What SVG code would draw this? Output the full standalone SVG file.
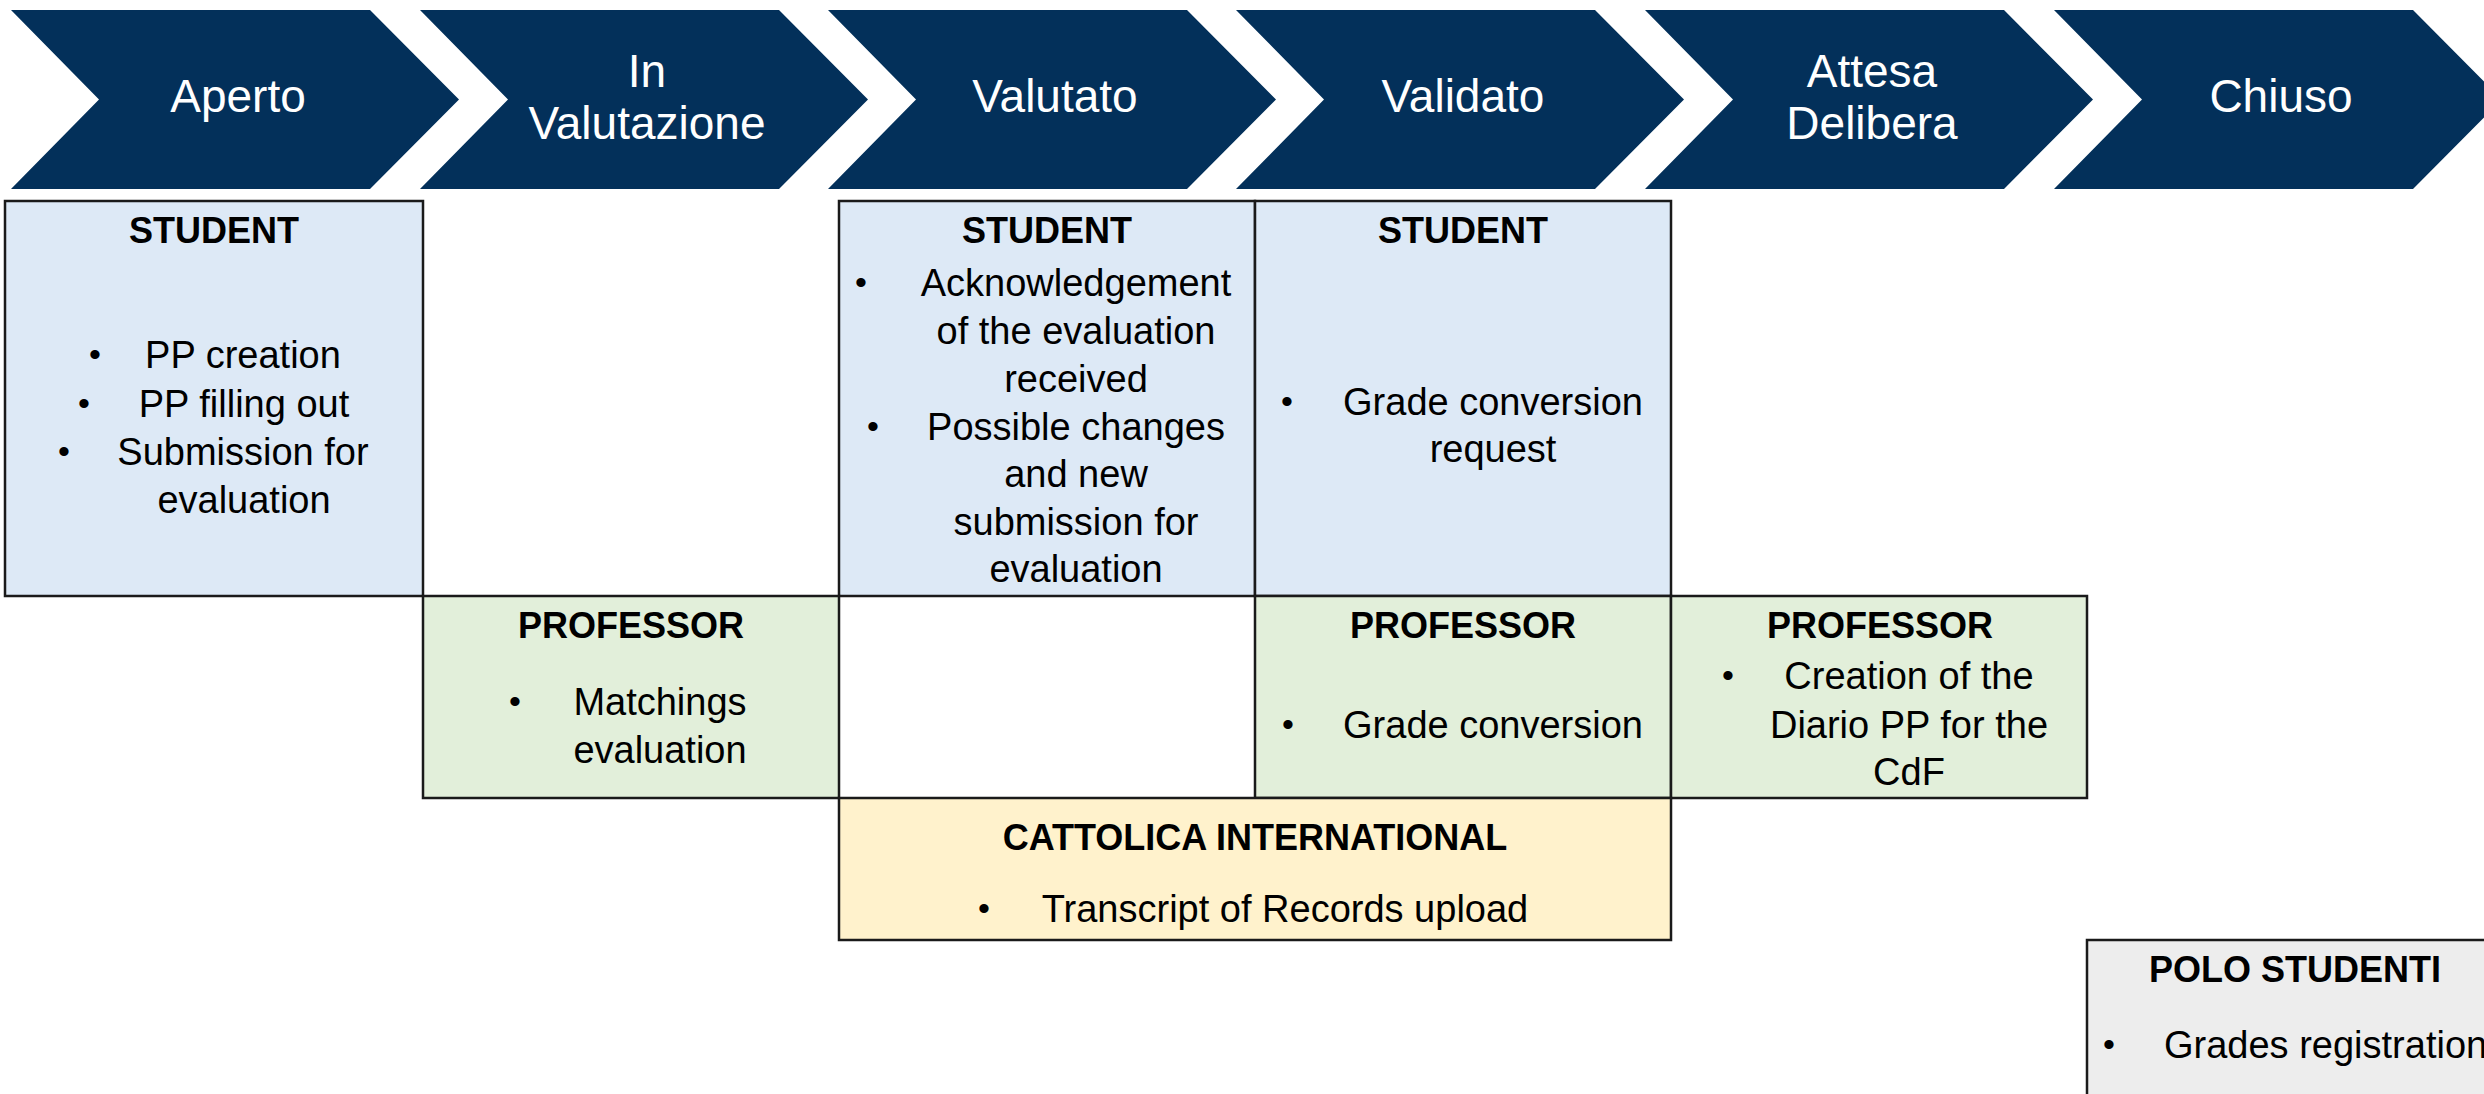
<svg xmlns="http://www.w3.org/2000/svg" width="2484" height="1094" viewBox="0 0 2484 1094">
<style>
.chev{fill:#03305A;}
.ct{font-family:"Liberation Sans",Arial,sans-serif;font-size:46px;fill:#FFFFFF;text-anchor:middle;}
.box{stroke:#1A1A1A;stroke-width:2.5;}
.blue{fill:#DDE9F6;}
.green{fill:#E2EFDA;}
.yellow{fill:#FFF2CC;}
.gray{fill:#EDEDED;}
.h{font-family:"Liberation Sans",Arial,sans-serif;font-size:36px;font-weight:bold;fill:#000;text-anchor:middle;}
.t{font-family:"Liberation Sans",Arial,sans-serif;font-size:38px;fill:#000;text-anchor:middle;}
.b{font-family:"Liberation Sans",Arial,sans-serif;font-size:34px;fill:#000;text-anchor:middle;}
</style>
<defs>
<polygon id="chevron" points="0,10 359,10 448,99.5 359,189 0,189 88,99.5"/>
</defs>
<g id="stages">
<g id="stage-aperto"><use href="#chevron" class="chev" x="11"/><text class="ct" x="238" y="112">Aperto</text></g>
<g id="stage-in-valutazione"><use href="#chevron" class="chev" x="420"/><text class="ct" x="647" y="87">In</text><text class="ct" x="647" y="139">Valutazione</text></g>
<g id="stage-valutato"><use href="#chevron" class="chev" x="828"/><text class="ct" x="1055" y="112">Valutato</text></g>
<g id="stage-validato"><use href="#chevron" class="chev" x="1236"/><text class="ct" x="1463" y="112">Validato</text></g>
<g id="stage-attesa-delibera"><use href="#chevron" class="chev" x="1645"/><text class="ct" x="1872" y="87">Attesa</text><text class="ct" x="1872" y="139">Delibera</text></g>
<g id="stage-chiuso"><use href="#chevron" class="chev" x="2054"/><text class="ct" x="2281" y="112">Chiuso</text></g>
</g>
<g id="connectors"></g>
<g id="student-aperto">
<rect class="box blue" x="5" y="201" width="418" height="395"/>
<text class="h" x="214" y="243">STUDENT</text>
<text class="b" x="95" y="366">•</text><text class="t" x="243" y="368">PP creation</text>
<text class="b" x="84" y="415">•</text><text class="t" x="244" y="417">PP filling out</text>
<text class="b" x="64" y="463">•</text><text class="t" x="243" y="465">Submission for</text>
<text class="t" x="244" y="513">evaluation</text>
</g>
<g id="student-valutato">
<rect class="box blue" x="839" y="201" width="416" height="395"/>
<text class="h" x="1047" y="243">STUDENT</text>
<text class="b" x="861" y="294">•</text><text class="t" x="1076" y="296">Acknowledgement</text>
<text class="t" x="1076" y="344">of the evaluation</text>
<text class="t" x="1076" y="392">received</text>
<text class="b" x="873" y="438">•</text><text class="t" x="1076" y="440">Possible changes</text>
<text class="t" x="1076" y="487">and new</text>
<text class="t" x="1076" y="535">submission for</text>
<text class="t" x="1076" y="582">evaluation</text>
</g>
<g id="student-validato">
<rect class="box blue" x="1255" y="201" width="416" height="395"/>
<text class="h" x="1463" y="243">STUDENT</text>
<text class="b" x="1287" y="413">•</text><text class="t" x="1493" y="415">Grade conversion</text>
<text class="t" x="1493" y="462">request</text>
</g>
<g id="professor-in-valutazione">
<rect class="box green" x="423" y="596" width="416" height="202"/>
<text class="h" x="631" y="638">PROFESSOR</text>
<text class="b" x="515" y="713">•</text><text class="t" x="660" y="715">Matchings</text>
<text class="t" x="660" y="763">evaluation</text>
</g>
<g id="professor-validato">
<rect class="box green" x="1255" y="596" width="416" height="202"/>
<text class="h" x="1463" y="638">PROFESSOR</text>
<text class="b" x="1288" y="736">•</text><text class="t" x="1493" y="738">Grade conversion</text>
</g>
<g id="professor-attesa-delibera">
<rect class="box green" x="1671" y="596" width="416" height="202"/>
<text class="h" x="1880" y="638">PROFESSOR</text>
<text class="b" x="1728" y="687">•</text><text class="t" x="1909" y="689">Creation of the</text>
<text class="t" x="1909" y="738">Diario PP for the</text>
<text class="t" x="1909" y="785">CdF</text>
</g>
<g id="cattolica-international">
<rect class="box yellow" x="839" y="798" width="832" height="142"/>
<text class="h" x="1255" y="850">CATTOLICA INTERNATIONAL</text>
<text class="b" x="984" y="920">•</text><text class="t" x="1285" y="922">Transcript of Records upload</text>
</g>
<g id="polo-studenti">
<rect class="box gray" x="2087" y="940" width="420" height="170"/>
<text class="h" x="2295" y="982">POLO STUDENTI</text>
<text class="b" x="2109" y="1056">•</text><text class="t" x="2164" y="1058" style="text-anchor:start">Grades registration</text>
</g>
</svg>
